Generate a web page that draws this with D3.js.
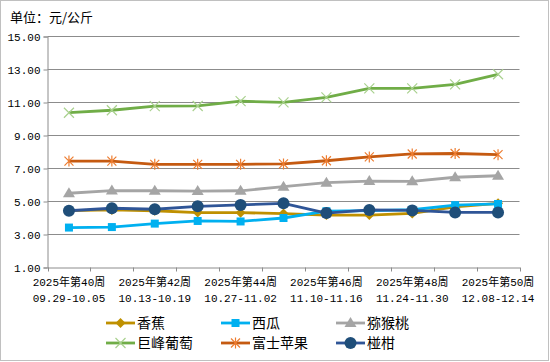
<!DOCTYPE html>
<html>
<head>
<meta charset="utf-8">
<script src="https://cdn.jsdelivr.net/npm/d3@7"></script>
<style>
  body { margin: 0; background: #fff; }
  svg text { font-family: "Liberation Mono", "Noto Sans CJK SC", monospace; fill: #000; }
</style>
</head>
<body>
<svg id="vis" width="550" height="362"></svg>
<script>
const weeks = ["2025年第40周","2025年第41周","2025年第42周","2025年第43周","2025年第44周","2025年第45周",
               "2025年第46周","2025年第47周","2025年第48周","2025年第49周","2025年第50周"];
const dates = ["09.29-10.05","10.06-10.12","10.13-10.19","10.20-10.26","10.27-11.02","11.03-11.09",
               "11.10-11.16","11.17-11.23","11.24-11.30","12.01-12.07","12.08-12.14"];
const yTicks = [1, 3, 5, 7, 9, 11, 13, 15];

const names = ["香蕉", "西瓜", "猕猴桃", "巨峰葡萄", "富士苹果", "椪柑"];
const banana = [4.42, 4.46, 4.41, 4.30, 4.29, 4.24, 4.15, 4.15, 4.25, 4.65, 4.86];
const watermelon = [3.39, 3.42, 3.63, 3.79, 3.76, 3.97, 4.38, 4.42, 4.47, 4.75, 4.82];
const kiwi = [5.47, 5.63, 5.62, 5.60, 5.62, 5.87, 6.11, 6.21, 6.19, 6.44, 6.53];
const grape = [10.35, 10.50, 10.75, 10.76, 11.05, 10.98, 11.28, 11.83, 11.83, 12.07, 12.68];
const apple = [7.42, 7.42, 7.22, 7.22, 7.22, 7.25, 7.44, 7.67, 7.85, 7.88, 7.81];
const orange = [4.41, 4.56, 4.50, 4.68, 4.76, 4.86, 4.27, 4.46, 4.43, 4.31, 4.31];

const series = [
  {name: names[0], values: banana, color: "#BF9000", mark: "diamond"},
  {name: names[1], values: watermelon, color: "#00B0F0", mark: "square"},
  {name: names[2], values: kiwi, color: "#A5A5A5", mark: "triangle"},
  {name: names[3], values: grape, color: "#70AD47", mark: "x", markColor: "#A9D18E"},
  {name: names[4], values: apple, color: "#C55A11", mark: "star", markColor: "#ED7D31"},
  {name: names[5], values: orange, color: "#2F5597", mark: "circle", markColor: "#1F4E79"}
];

const svg = d3.select("#vis");
const plotLeft = 47.5, plotRight = 519.5, plotTop = 36, plotBottom = 267;

svg.append("rect").attr("x", 0.5).attr("y", 0.5).attr("width", 548).attr("height", 360)
  .attr("fill", "#fff").attr("stroke", "#c0c0c0");

svg.append("text").attr("x", 10).attr("y", 22).style("font-size", "13px")
  .style("font-family", "'Noto Sans CJK SC'").text("单位：元/公斤");

const x = d3.scaleBand().domain(weeks).range([plotLeft, plotRight]);
const y = d3.scaleLinear().domain([1, 15]).range([plotBottom, plotTop]);

// gridlines
svg.append("g").selectAll("line").data(yTicks.slice(1)).join("line")
  .attr("x1", plotLeft).attr("x2", plotRight)
  .attr("y1", d => Math.round(y(d)) + 0.5).attr("y2", d => Math.round(y(d)) + 0.5)
  .attr("stroke", "#8c8c8c").attr("stroke-width", 1);

const yAxis = svg.append("g").attr("transform", `translate(${plotLeft},0.5)`)
  .call(d3.axisLeft(y).tickValues(yTicks).tickFormat(d3.format(".2f")).tickSize(4).tickPadding(3));
yAxis.selectAll("text").style("font-size", "11px");

const xAxis = svg.append("g").attr("transform", `translate(0,${plotBottom + 0.5})`)
  .call(d3.axisBottom(x).tickSize(0).tickFormat(""));
xAxis.selectAll(".tick").remove();
// boundary ticks
xAxis.selectAll("line.b").data(d3.range(weeks.length + 1)).join("line").attr("class", "b")
  .attr("x1", i => Math.round(plotLeft + i * x.step()) + 0.5).attr("x2", i => Math.round(plotLeft + i * x.step()) + 0.5)
  .attr("y1", 0).attr("y2", 4);

[yAxis, xAxis].forEach(g => {
  g.selectAll("path, line").attr("stroke", "#8c8c8c");
});

const lab = svg.append("g").selectAll("g").data(weeks.filter((d, i) => i % 2 === 0)).join("g")
  .attr("transform", d => `translate(${x(d) + x.bandwidth() / 2},0)`);
lab.append("text").attr("y", 286).attr("text-anchor", "middle").style("font-size", "11px").text(d => d);
lab.append("text").attr("y", 302).attr("text-anchor", "middle").style("font-size", "11px")
  .text(d => dates[weeks.indexOf(d)]);

function drawMark(g, s) {
  const c = s.markColor || s.color;
  if (s.mark === "diamond") {
    g.append("path").attr("d", "M0,-5L5,0L0,5L-5,0Z").attr("fill", c);
  } else if (s.mark === "square") {
    g.append("rect").attr("x", -4).attr("y", -4).attr("width", 8).attr("height", 8).attr("fill", c);
  } else if (s.mark === "triangle") {
    g.append("path").attr("d", "M0,-6L6,4L-6,4Z").attr("fill", c);
  } else if (s.mark === "x") {
    g.append("path").attr("d", "M-5,-5L5,5M5,-5L-5,5").attr("stroke", c).attr("stroke-width", 1.2);
  } else if (s.mark === "star") {
    g.append("path").attr("d", "M-4.5,-4.5L4.5,4.5M4.5,-4.5L-4.5,4.5M0,-5.5L0,5.5")
      .attr("stroke", c).attr("stroke-width", 1.2);
  } else {
    g.append("circle").attr("r", 6).attr("fill", c);
  }
}

const line = d3.line().x((d, i) => x(weeks[i]) + x.bandwidth() / 2).y(d => y(d));

series.forEach(s => {
  svg.append("path").datum(s.values).attr("d", line)
    .attr("fill", "none").attr("stroke", s.color).attr("stroke-width", 2.8)
    .attr("stroke-linejoin", "round");
  svg.append("g").selectAll("g").data(s.values).join("g")
    .attr("transform", (d, i) => `translate(${x(weeks[i]) + x.bandwidth() / 2},${y(d)})`)
    .each(function () { drawMark(d3.select(this), s); });
});

// legend
const legend = svg.append("g").selectAll("g").data(series).join("g")
  .attr("transform", (d, i) => `translate(${106 + (i % 3) * 115},${323 + Math.floor(i / 3) * 20})`);
legend.append("line").attr("x1", 0).attr("x2", 29).attr("stroke", d => d.color).attr("stroke-width", 2.8);
legend.append("g").attr("transform", "translate(14.5,0)").each(function (d) { drawMark(d3.select(this), d); });
legend.append("text").attr("x", 31).attr("dy", "0.35em").style("font-size", "14px")
  .style("font-family", "'Noto Sans CJK SC'").text(d => d.name);
</script>
</body>
</html>
